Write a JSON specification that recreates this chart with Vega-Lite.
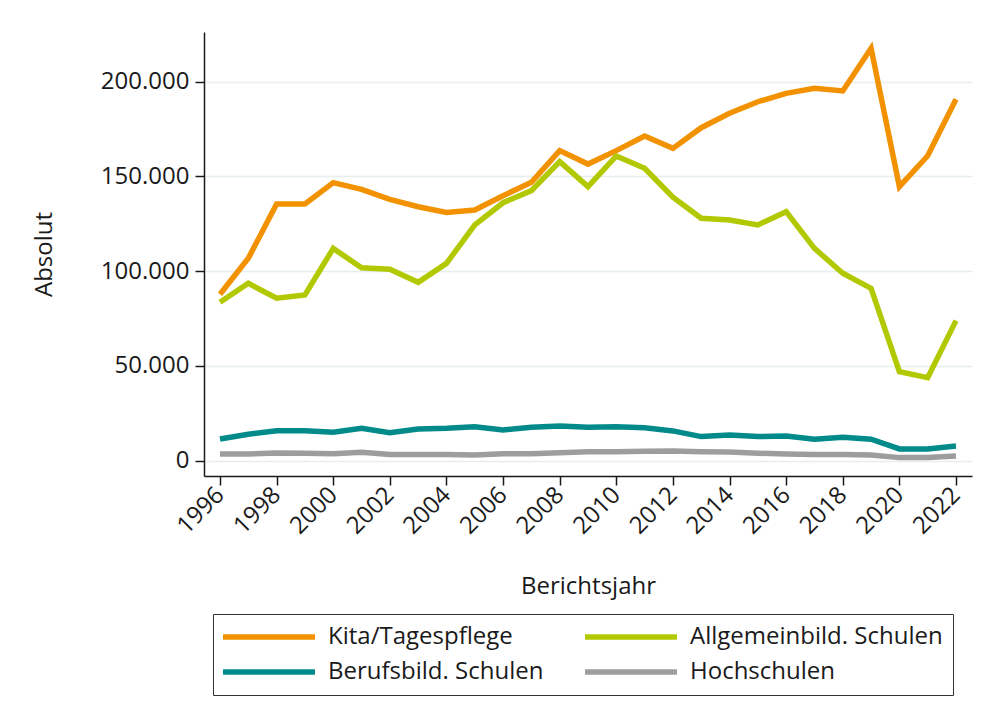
{
  "$schema": "https://vega.github.io/schema/vega-lite/v6.json",
  "autosize": {"type": "none"},
  "padding": {"left": 204, "top": 32, "right": 9, "bottom": 244},
  "width": 768,
  "height": 444,
  "background": "white",
  "config": {
    "locale": {"number": {"decimal": ",", "thousands": ".", "grouping": [3], "currency": ["", " €"]}},
    "font": "Open Sans",
    "view": {"stroke": null}
  },
  "data": {
    "values": [
      {"jahr": 1996, "bereich": "Kita/Tagespflege", "wert": 87800},
      {"jahr": 1997, "bereich": "Kita/Tagespflege", "wert": 106800},
      {"jahr": 1998, "bereich": "Kita/Tagespflege", "wert": 135400},
      {"jahr": 1999, "bereich": "Kita/Tagespflege", "wert": 135400},
      {"jahr": 2000, "bereich": "Kita/Tagespflege", "wert": 146700},
      {"jahr": 2001, "bereich": "Kita/Tagespflege", "wert": 143200},
      {"jahr": 2002, "bereich": "Kita/Tagespflege", "wert": 137900},
      {"jahr": 2003, "bereich": "Kita/Tagespflege", "wert": 134000},
      {"jahr": 2004, "bereich": "Kita/Tagespflege", "wert": 131000},
      {"jahr": 2005, "bereich": "Kita/Tagespflege", "wert": 132300},
      {"jahr": 2006, "bereich": "Kita/Tagespflege", "wert": 139800},
      {"jahr": 2007, "bereich": "Kita/Tagespflege", "wert": 146900},
      {"jahr": 2008, "bereich": "Kita/Tagespflege", "wert": 163600},
      {"jahr": 2009, "bereich": "Kita/Tagespflege", "wert": 156500},
      {"jahr": 2010, "bereich": "Kita/Tagespflege", "wert": 163600},
      {"jahr": 2011, "bereich": "Kita/Tagespflege", "wert": 171300},
      {"jahr": 2012, "bereich": "Kita/Tagespflege", "wert": 164800},
      {"jahr": 2013, "bereich": "Kita/Tagespflege", "wert": 175700},
      {"jahr": 2014, "bereich": "Kita/Tagespflege", "wert": 183300},
      {"jahr": 2015, "bereich": "Kita/Tagespflege", "wert": 189400},
      {"jahr": 2016, "bereich": "Kita/Tagespflege", "wert": 193800},
      {"jahr": 2017, "bereich": "Kita/Tagespflege", "wert": 196500},
      {"jahr": 2018, "bereich": "Kita/Tagespflege", "wert": 195100},
      {"jahr": 2019, "bereich": "Kita/Tagespflege", "wert": 217600},
      {"jahr": 2020, "bereich": "Kita/Tagespflege", "wert": 144600},
      {"jahr": 2021, "bereich": "Kita/Tagespflege", "wert": 160900},
      {"jahr": 2022, "bereich": "Kita/Tagespflege", "wert": 190700},
      {"jahr": 1996, "bereich": "Allgemeinbild. Schulen", "wert": 83600},
      {"jahr": 1997, "bereich": "Allgemeinbild. Schulen", "wert": 93600},
      {"jahr": 1998, "bereich": "Allgemeinbild. Schulen", "wert": 85700},
      {"jahr": 1999, "bereich": "Allgemeinbild. Schulen", "wert": 87400},
      {"jahr": 2000, "bereich": "Allgemeinbild. Schulen", "wert": 112000},
      {"jahr": 2001, "bereich": "Allgemeinbild. Schulen", "wert": 101800},
      {"jahr": 2002, "bereich": "Allgemeinbild. Schulen", "wert": 101000},
      {"jahr": 2003, "bereich": "Allgemeinbild. Schulen", "wert": 94100},
      {"jahr": 2004, "bereich": "Allgemeinbild. Schulen", "wert": 104100},
      {"jahr": 2005, "bereich": "Allgemeinbild. Schulen", "wert": 124400},
      {"jahr": 2006, "bereich": "Allgemeinbild. Schulen", "wert": 136100},
      {"jahr": 2007, "bereich": "Allgemeinbild. Schulen", "wert": 142500},
      {"jahr": 2008, "bereich": "Allgemeinbild. Schulen", "wert": 157800},
      {"jahr": 2009, "bereich": "Allgemeinbild. Schulen", "wert": 144600},
      {"jahr": 2010, "bereich": "Allgemeinbild. Schulen", "wert": 160800},
      {"jahr": 2011, "bereich": "Allgemeinbild. Schulen", "wert": 154300},
      {"jahr": 2012, "bereich": "Allgemeinbild. Schulen", "wert": 139000},
      {"jahr": 2013, "bereich": "Allgemeinbild. Schulen", "wert": 127900},
      {"jahr": 2014, "bereich": "Allgemeinbild. Schulen", "wert": 127000},
      {"jahr": 2015, "bereich": "Allgemeinbild. Schulen", "wert": 124400},
      {"jahr": 2016, "bereich": "Allgemeinbild. Schulen", "wert": 131400},
      {"jahr": 2017, "bereich": "Allgemeinbild. Schulen", "wert": 112000},
      {"jahr": 2018, "bereich": "Allgemeinbild. Schulen", "wert": 98900},
      {"jahr": 2019, "bereich": "Allgemeinbild. Schulen", "wert": 90900},
      {"jahr": 2020, "bereich": "Allgemeinbild. Schulen", "wert": 47000},
      {"jahr": 2021, "bereich": "Allgemeinbild. Schulen", "wert": 43800},
      {"jahr": 2022, "bereich": "Allgemeinbild. Schulen", "wert": 73900},
      {"jahr": 1996, "bereich": "Berufsbild. Schulen", "wert": 11400},
      {"jahr": 1997, "bereich": "Berufsbild. Schulen", "wert": 13900},
      {"jahr": 1998, "bereich": "Berufsbild. Schulen", "wert": 15800},
      {"jahr": 1999, "bereich": "Berufsbild. Schulen", "wert": 15800},
      {"jahr": 2000, "bereich": "Berufsbild. Schulen", "wert": 15000},
      {"jahr": 2001, "bereich": "Berufsbild. Schulen", "wert": 17100},
      {"jahr": 2002, "bereich": "Berufsbild. Schulen", "wert": 14800},
      {"jahr": 2003, "bereich": "Berufsbild. Schulen", "wert": 16700},
      {"jahr": 2004, "bereich": "Berufsbild. Schulen", "wert": 17100},
      {"jahr": 2005, "bereich": "Berufsbild. Schulen", "wert": 17900},
      {"jahr": 2006, "bereich": "Berufsbild. Schulen", "wert": 16200},
      {"jahr": 2007, "bereich": "Berufsbild. Schulen", "wert": 17600},
      {"jahr": 2008, "bereich": "Berufsbild. Schulen", "wert": 18300},
      {"jahr": 2009, "bereich": "Berufsbild. Schulen", "wert": 17600},
      {"jahr": 2010, "bereich": "Berufsbild. Schulen", "wert": 17900},
      {"jahr": 2011, "bereich": "Berufsbild. Schulen", "wert": 17400},
      {"jahr": 2012, "bereich": "Berufsbild. Schulen", "wert": 15700},
      {"jahr": 2013, "bereich": "Berufsbild. Schulen", "wert": 12700},
      {"jahr": 2014, "bereich": "Berufsbild. Schulen", "wert": 13500},
      {"jahr": 2015, "bereich": "Berufsbild. Schulen", "wert": 12700},
      {"jahr": 2016, "bereich": "Berufsbild. Schulen", "wert": 13000},
      {"jahr": 2017, "bereich": "Berufsbild. Schulen", "wert": 11300},
      {"jahr": 2018, "bereich": "Berufsbild. Schulen", "wert": 12300},
      {"jahr": 2019, "bereich": "Berufsbild. Schulen", "wert": 11300},
      {"jahr": 2020, "bereich": "Berufsbild. Schulen", "wert": 6200},
      {"jahr": 2021, "bereich": "Berufsbild. Schulen", "wert": 6200},
      {"jahr": 2022, "bereich": "Berufsbild. Schulen", "wert": 7700},
      {"jahr": 1996, "bereich": "Hochschulen", "wert": 3500},
      {"jahr": 1997, "bereich": "Hochschulen", "wert": 3500},
      {"jahr": 1998, "bereich": "Hochschulen", "wert": 4000},
      {"jahr": 1999, "bereich": "Hochschulen", "wert": 3900},
      {"jahr": 2000, "bereich": "Hochschulen", "wert": 3700},
      {"jahr": 2001, "bereich": "Hochschulen", "wert": 4400},
      {"jahr": 2002, "bereich": "Hochschulen", "wert": 3300},
      {"jahr": 2003, "bereich": "Hochschulen", "wert": 3200},
      {"jahr": 2004, "bereich": "Hochschulen", "wert": 3300},
      {"jahr": 2005, "bereich": "Hochschulen", "wert": 3000},
      {"jahr": 2006, "bereich": "Hochschulen", "wert": 3700},
      {"jahr": 2007, "bereich": "Hochschulen", "wert": 3700},
      {"jahr": 2008, "bereich": "Hochschulen", "wert": 4200},
      {"jahr": 2009, "bereich": "Hochschulen", "wert": 4700},
      {"jahr": 2010, "bereich": "Hochschulen", "wert": 4700},
      {"jahr": 2011, "bereich": "Hochschulen", "wert": 4900},
      {"jahr": 2012, "bereich": "Hochschulen", "wert": 5100},
      {"jahr": 2013, "bereich": "Hochschulen", "wert": 4700},
      {"jahr": 2014, "bereich": "Hochschulen", "wert": 4600},
      {"jahr": 2015, "bereich": "Hochschulen", "wert": 3900},
      {"jahr": 2016, "bereich": "Hochschulen", "wert": 3500},
      {"jahr": 2017, "bereich": "Hochschulen", "wert": 3300},
      {"jahr": 2018, "bereich": "Hochschulen", "wert": 3300},
      {"jahr": 2019, "bereich": "Hochschulen", "wert": 3000},
      {"jahr": 2020, "bereich": "Hochschulen", "wert": 1600},
      {"jahr": 2021, "bereich": "Hochschulen", "wert": 1600},
      {"jahr": 2022, "bereich": "Hochschulen", "wert": 2500}
    ]
  },
  "mark": {"type": "line", "strokeWidth": 5.5, "strokeJoin": "miter", "strokeCap": "butt"},
  "encoding": {
    "x": {
      "field": "jahr",
      "type": "quantitative",
      "scale": {"domain": [1995.435, 2022.565], "nice": false, "zero": false},
      "axis": {
        "title": "Berichtsjahr",
        "values": [1996, 1998, 2000, 2002, 2004, 2006, 2008, 2010, 2012, 2014, 2016, 2018, 2020, 2022],
        "format": "d",
        "labelAngle": -45,
        "labelAlign": "right",
        "labelBaseline": "middle",
        "labelFontSize": 24,
        "labelColor": "#1a1a1a",
        "labelPadding": 6,
        "labelOverlap": false,
        "labelBound": false,
        "labelFlush": false,
        "tickSize": 9,
        "tickColor": "#1a1a1a",
        "tickWidth": 1.5,
        "domainColor": "#1a1a1a",
        "domainWidth": 1.5,
        "grid": false,
        "titleFontSize": 24,
        "titleFontWeight": "normal",
        "titleColor": "#1a1a1a",
        "titlePadding": 36
      }
    },
    "y": {
      "field": "wert",
      "type": "quantitative",
      "scale": {"domain": [-8100, 226200], "nice": false, "zero": false},
      "axis": {
        "title": "Absolut",
        "values": [0, 50000, 100000, 150000, 200000],
        "format": ",d",
        "labelFontSize": 24,
        "labelColor": "#1a1a1a",
        "labelPadding": 6,
        "tickSize": 9,
        "tickColor": "#1a1a1a",
        "tickWidth": 1.5,
        "domainColor": "#1a1a1a",
        "domainWidth": 1.5,
        "grid": true,
        "gridColor": "#e6efee",
        "gridWidth": 1.5,
        "titleFontSize": 24,
        "titleFontWeight": "normal",
        "titleColor": "#1a1a1a",
        "titlePadding": 44
      }
    },
    "color": {
      "field": "bereich",
      "type": "nominal",
      "sort": null,
      "scale": {
        "domain": ["Kita/Tagespflege", "Allgemeinbild. Schulen", "Berufsbild. Schulen", "Hochschulen"],
        "range": ["#f39200", "#b2c800", "#008b8a", "#9d9d9c"]
      },
      "legend": {
        "title": null,
        "orient": "none",
        "legendX": 9,
        "legendY": 582,
        "direction": "horizontal",
        "columns": 2,
        "symbolType": "stroke",
        "symbolSize": 8649,
        "symbolStrokeWidth": 5.5,
        "symbolOffset": -4,
        "clipHeight": 26,
        "labelFontSize": 24,
        "labelColor": "#1a1a1a",
        "labelOffset": 10,
        "labelLimit": 400,
        "columnPadding": 41,
        "rowPadding": 9,
        "padding": 10,
        "strokeColor": "#333333",
        "fillColor": "white"
      }
    }
  }
}
